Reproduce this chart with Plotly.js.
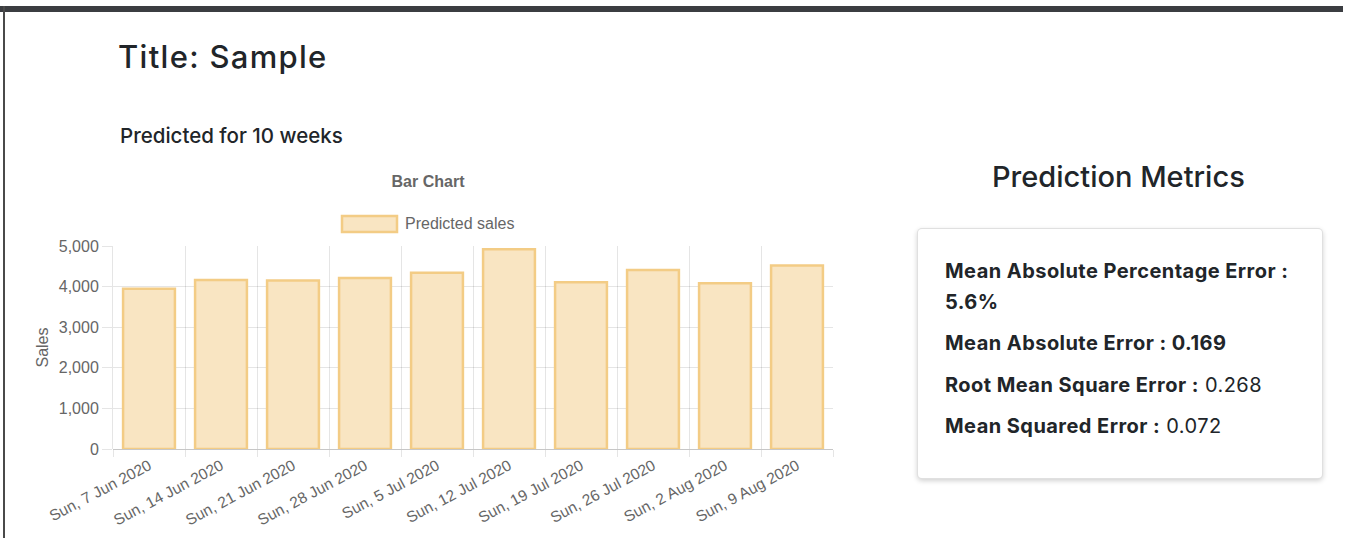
<!DOCTYPE html>
<html>
<head>
<meta charset="utf-8">
<script src="https://cdn.plot.ly/plotly-3.0.1.min.js"></script>
<style>
  html, body { margin: 0; padding: 0; background: #fff; width: 1354px; height: 538px; overflow: hidden; }
  body { position: relative; font-family: "Inter", "Noto Sans", sans-serif; color: #212529; }
  .topbar { position: absolute; left: 0; top: 6px; width: 1343px; height: 6px; background: #3b3d41; }
  .leftbar { position: absolute; left: 3px; top: 6px; width: 2px; height: 532px; background: #4a4a4a; }
  .abs { position: absolute; white-space: nowrap; }
  #title { left: 118px; top: 39px; font-size: 31px; font-weight: 500; line-height: 36px; letter-spacing: 1.3px; }
  #subtitle { left: 120px; top: 123px; font-size: 20.5px; font-weight: 500; line-height: 26px; }
  #mtitle { left: 992px; top: 159px; font-size: 29px; font-weight: 500; line-height: 36px; }
  #card { position: absolute; left: 917px; top: 228px; width: 404px; height: 249px; border: 1px solid rgba(0,0,0,0.12);
          border-radius: 5px; box-shadow: 0 2px 5px rgba(0,0,0,0.18); background: #fff; }
  .m { position: absolute; left: 945px; font-size: 20px; line-height: 24px; letter-spacing: 0.45px; color: #212529; white-space: nowrap; }
  .m b { font-weight: 700; }
  #chart { position: absolute; left: 0; top: 0; width: 900px; height: 538px; }
</style>
</head>
<body>
<div class="topbar"></div>
<div class="leftbar"></div>
<div id="chart"></div>
<div id="title" class="abs">Title: Sample</div>
<div id="subtitle" class="abs">Predicted for 10 weeks</div>
<div id="mtitle" class="abs">Prediction Metrics</div>
<div id="card"></div>
<div class="m" style="top:259px"><b>Mean Absolute Percentage Error :</b></div>
<div class="m" style="top:290px"><b>5.6%</b></div>
<div class="m" style="top:331px"><b>Mean Absolute Error : 0.169</b></div>
<div class="m" style="top:373px"><b>Root Mean Square Error :</b> 0.268</div>
<div class="m" style="top:414px"><b>Mean Squared Error :</b> 0.072</div>
<script>
const weeks = ["Sun, 7 Jun 2020", "Sun, 14 Jun 2020", "Sun, 21 Jun 2020", "Sun, 28 Jun 2020", "Sun, 5 Jul 2020",
               "Sun, 12 Jul 2020", "Sun, 19 Jul 2020", "Sun, 26 Jul 2020", "Sun, 2 Aug 2020", "Sun, 9 Aug 2020"];
const predictedSales = [3950, 4160, 4150, 4210, 4340, 4920, 4110, 4410, 4080, 4520];
const yTicks = [0, 1000, 2000, 3000, 4000, 5000];
const seriesName = "Predicted sales";

const fill = "#f9e5c2";
const border = "#f3cc85";
const txt = "#666666";
const grid = "rgba(0,0,0,0.1)";
const font = "Liberation Sans, Helvetica, Arial, sans-serif";

const L = 113, R = 833, T = 246, B = 449, W = 900, H = 538;
const px = x => (x - L) / (R - L);
const py = y => (B - y) / (B - T);

const data = [{
  type: "bar",
  x: weeks,
  y: predictedSales,
  name: seriesName,
  marker: { color: fill, line: { color: border, width: 2.5 } },
  showlegend: false,
  hoverinfo: "x+y"
}];

const layout = {
  width: W, height: H,
  margin: { l: L, r: W - R, t: T, b: H - B, pad: 0 },
  paper_bgcolor: "rgba(0,0,0,0)",
  plot_bgcolor: "rgba(0,0,0,0)",
  bargap: 0.28,
  font: { family: font, color: txt, size: 15 },
  title: { text: "<b>Bar Chart</b>", font: { family: font, size: 16, color: txt },
           xref: "paper", x: px(428), xanchor: "center", yref: "container", y: 1 - 181 / H, yanchor: "middle" },
  xaxis: {
    type: "category",
    tickson: "boundaries",
    showgrid: true, gridcolor: grid, gridwidth: 1,
    ticks: "outside", ticklen: 7, tickcolor: grid,
    tickangle: -28,
    ticklabelstandoff: 4,
    tickfont: { family: font, size: 15.5, color: txt },
    showline: false, zeroline: false,
    fixedrange: true
  },
  yaxis: {
    range: [0, 5000],
    tickvals: yTicks,
    tickformat: ",",
    showgrid: true, gridcolor: grid,
    ticks: "outside", ticklen: 10, tickcolor: grid,
    showline: true, linecolor: grid,
    zeroline: true, zerolinecolor: "rgba(0,0,0,0.22)", zerolinewidth: 1,
    tickfont: { family: font, size: 16, color: txt },
    title: { text: "Sales", font: { family: font, size: 16, color: txt }, standoff: 6 },
    automargin: false,
    fixedrange: true
  },
  shapes: [{
    type: "rect", xref: "paper", yref: "paper",
    x0: px(342), x1: px(397), y0: py(232), y1: py(216),
    fillcolor: fill, line: { color: border, width: 2.5 }
  }],
  annotations: [{
    text: seriesName, xref: "paper", yref: "paper",
    x: px(403), xanchor: "left", y: py(224), yanchor: "middle",
    showarrow: false, font: { family: font, size: 16, color: txt }
  }]
};

Plotly.newPlot("chart", data, layout, { displayModeBar: false, staticPlot: true });
</script>
</body>
</html>
